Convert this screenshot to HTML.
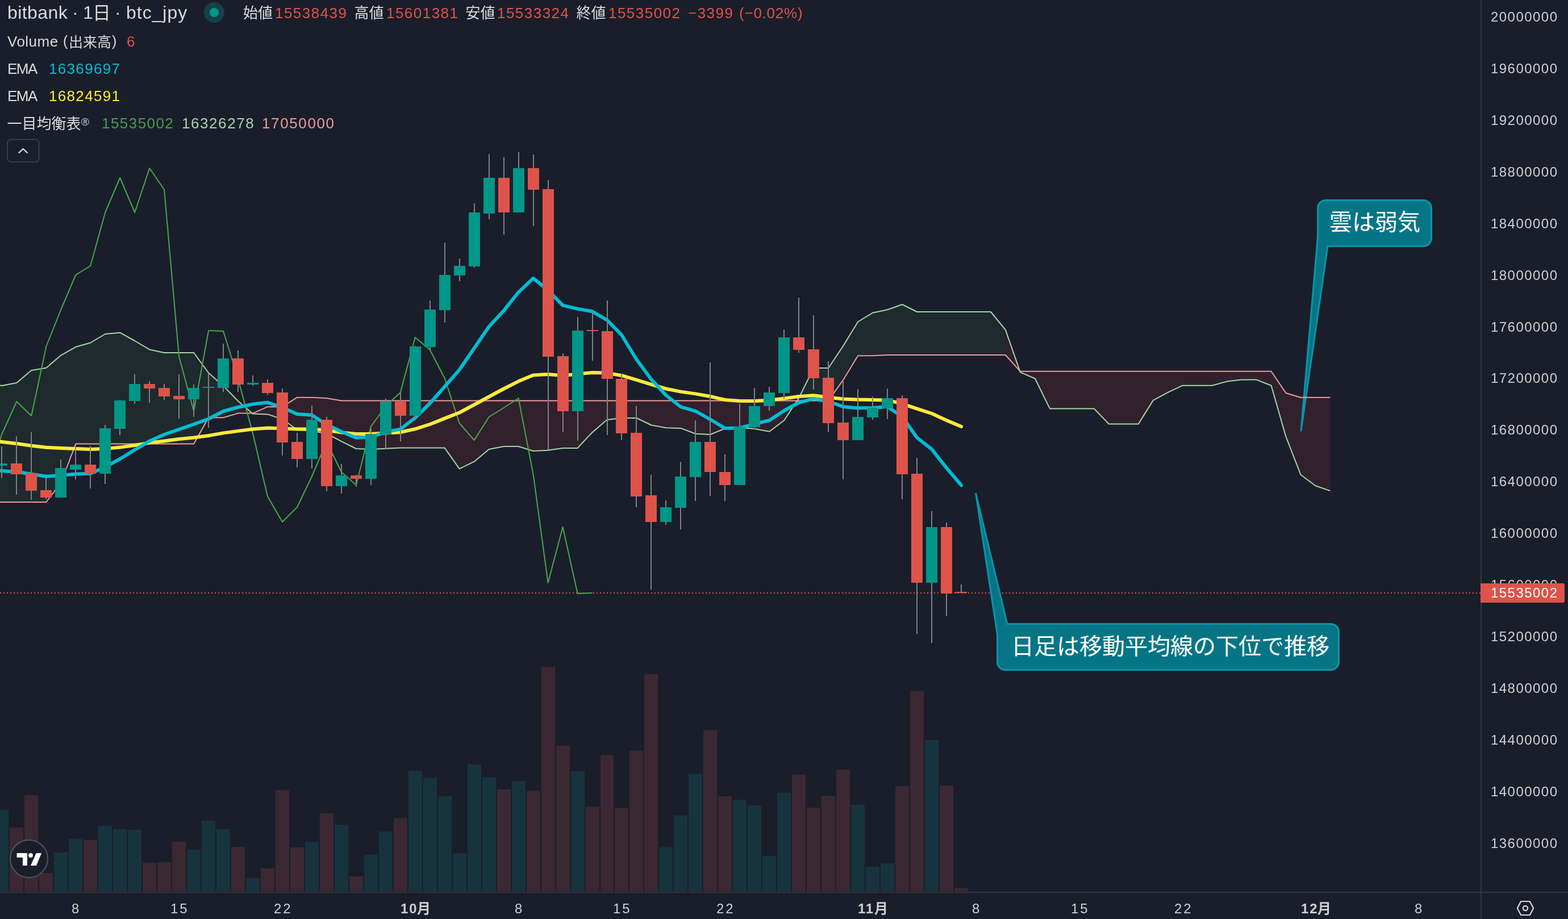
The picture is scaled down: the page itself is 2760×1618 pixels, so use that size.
<!DOCTYPE html>
<html lang="ja"><head><meta charset="utf-8"><title>bitbank 1日 btc_jpy</title>
<style>
html,body{margin:0;padding:0;background:#1a1e2b;}
body{width:2760px;height:1618px;overflow:hidden;position:relative;font-family:"Liberation Sans",sans-serif;}
#c{position:absolute;left:0;top:0;width:2760px;height:1618px;overflow:hidden;background:#1a1e2b;}
svg{position:absolute;left:0;top:0;}
svg text{font-family:"Liberation Sans","Noto Sans CJK JP",sans-serif;}
.t{position:absolute;white-space:nowrap;line-height:1;will-change:transform;}
</style></head><body><div id="c">
<svg width="2760" height="1618" viewBox="0 0 2760 1618">
<polygon fill="rgba(67,160,71,0.1)" points="-22.6,676.0 3.4,679.0 29.3,674.0 55.3,652.0 81.3,647.7 107.3,625.6 133.3,610.8 159.2,603.5 185.2,588.0 211.2,585.7 237.2,600.0 263.2,615.4 289.1,621.0 315.1,621.0 341.1,621.0 367.1,656.5 393.1,679.4 419.0,706.0 419.0,727.6 393.1,735.2 367.1,735.2 341.1,781.6 315.1,781.6 289.1,781.6 263.2,781.6 237.2,781.6 211.2,781.6 185.2,781.6 159.2,781.6 133.3,781.6 107.3,850.0 81.3,884.0 55.3,884.0 29.3,884.0 3.4,884.0 -22.6,884.0"/>
<polygon fill="rgba(244,67,54,0.1)" points="419.0,706.0 445.0,728.4 471.0,729.4 497.0,738.0 522.9,756.5 548.9,758.7 574.9,763.4 600.9,777.2 626.9,790.0 652.8,791.1 678.8,789.8 704.8,788.6 730.8,788.6 756.8,788.6 782.7,788.6 808.7,825.4 834.7,812.7 860.7,791.0 886.7,786.0 912.6,786.0 938.6,794.0 964.6,792.7 990.6,788.9 1016.6,788.9 1042.5,761.2 1068.5,739.1 1094.5,736.0 1120.5,736.0 1146.4,748.5 1172.4,753.3 1198.4,753.9 1224.4,763.8 1250.4,765.0 1276.3,754.4 1302.3,752.7 1328.3,755.0 1354.3,759.8 1380.3,740.0 1380.3,705.5 1354.3,705.5 1328.3,705.5 1302.3,705.5 1276.3,705.5 1250.4,705.5 1224.4,705.5 1198.4,705.5 1172.4,705.5 1146.4,705.5 1120.5,705.5 1094.5,705.5 1068.5,705.5 1042.5,705.5 1016.6,705.5 990.6,705.5 964.6,705.5 938.6,705.5 912.6,705.5 886.7,705.5 860.7,705.5 834.7,705.5 808.7,705.5 782.7,705.5 756.8,705.5 730.8,705.5 704.8,705.5 678.8,705.5 652.8,705.5 626.9,705.5 600.9,705.5 574.9,701.0 548.9,699.7 522.9,699.7 497.0,716.2 471.0,716.2 445.0,727.6 419.0,727.6"/>
<polygon fill="rgba(67,160,71,0.1)" points="1380.3,740.0 1406.2,700.6 1432.2,648.0 1458.2,648.0 1484.2,609.0 1510.2,566.5 1536.1,550.8 1562.1,545.2 1588.1,536.0 1614.1,549.0 1640.0,549.0 1666.0,549.0 1692.0,549.0 1718.0,549.0 1744.0,549.0 1769.9,580.8 1769.9,625.0 1744.0,625.0 1718.0,625.0 1692.0,625.0 1666.0,625.0 1640.0,625.0 1614.1,625.0 1588.1,625.0 1562.1,625.0 1536.1,626.2 1510.2,626.2 1484.2,668.9 1458.2,705.5 1432.2,705.5 1406.2,705.5 1380.3,705.5"/>
<polygon fill="rgba(244,67,54,0.1)" points="1769.9,580.8 1795.9,655.4 1821.9,666.5 1847.9,719.4 1873.9,719.4 1899.8,719.4 1925.8,719.4 1951.8,746.5 1977.8,746.5 2003.8,746.5 2029.7,704.9 2055.7,690.9 2081.7,678.7 2107.7,678.7 2133.6,678.7 2159.6,671.6 2185.6,668.6 2211.6,668.6 2237.6,678.7 2263.5,768.9 2289.5,835.7 2315.5,855.2 2341.5,864.1 2341.5,699.8 2315.5,699.8 2289.5,699.8 2263.5,692.0 2237.6,653.8 2211.6,653.8 2185.6,653.8 2159.6,653.8 2133.6,653.8 2107.7,653.8 2081.7,653.8 2055.7,653.8 2029.7,653.8 2003.8,653.8 1977.8,653.8 1951.8,653.8 1925.8,653.8 1899.8,653.8 1873.9,653.8 1847.9,653.8 1821.9,653.8 1795.9,653.8 1769.9,625.0"/>
<line x1="0" y1="1044" x2="2606" y2="1044" stroke="#de534a" stroke-width="2" stroke-dasharray="2 4"/>
<path d="M2333.5,352.5 H2505.5 A14,14 0 0 1 2519.5,366.5 V419.5 A14,14 0 0 1 2505.5,433.5 H2337 L2290,759.5 L2319.5,417 V366.5 A14,14 0 0 1 2333.5,352.5 Z" fill="#057586" stroke="#0c93a8" stroke-width="3" stroke-linejoin="miter"/>
<path d="M1773,1098.5 H2342.5 A14,14 0 0 1 2356.5,1112.5 V1165.5 A14,14 0 0 1 2342.5,1179.5 H1769.5 A14,14 0 0 1 1755.5,1165.5 V1117 L1717.5,868 Z" fill="#057586" stroke="#0c93a8" stroke-width="3" stroke-linejoin="miter"/>
<polyline fill="none" stroke="#a5d6a7" stroke-width="2" stroke-linejoin="round"  points="-22.6,676.0 3.4,679.0 29.3,674.0 55.3,652.0 81.3,647.7 107.3,625.6 133.3,610.8 159.2,603.5 185.2,588.0 211.2,585.7 237.2,600.0 263.2,615.4 289.1,621.0 315.1,621.0 341.1,621.0 367.1,656.5 393.1,679.4 419.0,706.0 445.0,728.4 471.0,729.4 497.0,738.0 522.9,756.5 548.9,758.7 574.9,763.4 600.9,777.2 626.9,790.0 652.8,791.1 678.8,789.8 704.8,788.6 730.8,788.6 756.8,788.6 782.7,788.6 808.7,825.4 834.7,812.7 860.7,791.0 886.7,786.0 912.6,786.0 938.6,794.0 964.6,792.7 990.6,788.9 1016.6,788.9 1042.5,761.2 1068.5,739.1 1094.5,736.0 1120.5,736.0 1146.4,748.5 1172.4,753.3 1198.4,753.9 1224.4,763.8 1250.4,765.0 1276.3,754.4 1302.3,752.7 1328.3,755.0 1354.3,759.8 1380.3,740.0 1406.2,700.6 1432.2,648.0 1458.2,648.0 1484.2,609.0 1510.2,566.5 1536.1,550.8 1562.1,545.2 1588.1,536.0 1614.1,549.0 1640.0,549.0 1666.0,549.0 1692.0,549.0 1718.0,549.0 1744.0,549.0 1769.9,580.8 1795.9,655.4 1821.9,666.5 1847.9,719.4 1873.9,719.4 1899.8,719.4 1925.8,719.4 1951.8,746.5 1977.8,746.5 2003.8,746.5 2029.7,704.9 2055.7,690.9 2081.7,678.7 2107.7,678.7 2133.6,678.7 2159.6,671.6 2185.6,668.6 2211.6,668.6 2237.6,678.7 2263.5,768.9 2289.5,835.7 2315.5,855.2 2341.5,864.1"/>
<polyline fill="none" stroke="#ef9a9a" stroke-width="2" stroke-linejoin="round"  points="-22.6,884.0 3.4,884.0 29.3,884.0 55.3,884.0 81.3,884.0 107.3,850.0 133.3,781.6 159.2,781.6 185.2,781.6 211.2,781.6 237.2,781.6 263.2,781.6 289.1,781.6 315.1,781.6 341.1,781.6 367.1,735.2 393.1,735.2 419.0,727.6 445.0,727.6 471.0,716.2 497.0,716.2 522.9,699.7 548.9,699.7 574.9,701.0 600.9,705.5 626.9,705.5 652.8,705.5 678.8,705.5 704.8,705.5 730.8,705.5 756.8,705.5 782.7,705.5 808.7,705.5 834.7,705.5 860.7,705.5 886.7,705.5 912.6,705.5 938.6,705.5 964.6,705.5 990.6,705.5 1016.6,705.5 1042.5,705.5 1068.5,705.5 1094.5,705.5 1120.5,705.5 1146.4,705.5 1172.4,705.5 1198.4,705.5 1224.4,705.5 1250.4,705.5 1276.3,705.5 1302.3,705.5 1328.3,705.5 1354.3,705.5 1380.3,705.5 1406.2,705.5 1432.2,705.5 1458.2,705.5 1484.2,668.9 1510.2,626.2 1536.1,626.2 1562.1,625.0 1588.1,625.0 1614.1,625.0 1640.0,625.0 1666.0,625.0 1692.0,625.0 1718.0,625.0 1744.0,625.0 1769.9,625.0 1795.9,653.8 1821.9,653.8 1847.9,653.8 1873.9,653.8 1899.8,653.8 1925.8,653.8 1951.8,653.8 1977.8,653.8 2003.8,653.8 2029.7,653.8 2055.7,653.8 2081.7,653.8 2107.7,653.8 2133.6,653.8 2159.6,653.8 2185.6,653.8 2211.6,653.8 2237.6,653.8 2263.5,692.0 2289.5,699.8 2315.5,699.8 2341.5,699.8"/>
<polyline fill="none" stroke="#46a94a" stroke-width="2" stroke-linejoin="round"  points="-48.6,883.0 -22.6,843.0 3.4,764.0 29.3,707.0 55.3,732.0 81.3,610.0 107.3,545.0 133.3,484.0 159.2,468.0 185.2,374.0 211.2,313.0 237.2,374.0 263.2,296.0 289.1,334.0 315.1,628.0 341.1,724.0 367.1,582.0 393.1,583.0 419.0,667.0 445.0,763.0 471.0,874.0 497.0,919.0 522.9,893.0 548.9,839.0 574.9,778.0 600.9,831.0 626.9,854.0 652.8,751.0 678.8,715.0 704.8,691.0 730.8,594.0 756.8,616.0 782.7,666.0 808.7,745.0 834.7,775.0 860.7,734.0 886.7,718.0 912.6,701.0 938.6,835.0 964.6,1026.0 990.6,928.0 1016.6,1045.0 1042.5,1044.0"/>
<rect x="-9" y="1426.0" width="24" height="143.0" fill="#17343e"/>
<rect x="17" y="1457.0" width="24" height="112.0" fill="#3b2832"/>
<rect x="43" y="1400.0" width="24" height="169.0" fill="#3b2832"/>
<rect x="69" y="1537.0" width="24" height="32.0" fill="#3b2832"/>
<rect x="95" y="1501.0" width="24" height="68.0" fill="#17343e"/>
<rect x="121" y="1477.0" width="24" height="92.0" fill="#17343e"/>
<rect x="147" y="1479.0" width="24" height="90.0" fill="#3b2832"/>
<rect x="173" y="1454.0" width="24" height="115.0" fill="#17343e"/>
<rect x="199" y="1460.0" width="24" height="109.0" fill="#17343e"/>
<rect x="225" y="1461.0" width="24" height="108.0" fill="#17343e"/>
<rect x="251" y="1519.0" width="24" height="50.0" fill="#3b2832"/>
<rect x="277" y="1518.0" width="24" height="51.0" fill="#3b2832"/>
<rect x="303" y="1482.0" width="24" height="87.0" fill="#3b2832"/>
<rect x="329" y="1496.0" width="24" height="73.0" fill="#17343e"/>
<rect x="355" y="1445.0" width="24" height="124.0" fill="#17343e"/>
<rect x="381" y="1460.0" width="24" height="109.0" fill="#17343e"/>
<rect x="407" y="1491.0" width="24" height="78.0" fill="#3b2832"/>
<rect x="433" y="1546.0" width="24" height="23.0" fill="#17343e"/>
<rect x="459" y="1529.0" width="24" height="40.0" fill="#3b2832"/>
<rect x="485" y="1391.0" width="24" height="178.0" fill="#3b2832"/>
<rect x="511" y="1492.0" width="24" height="77.0" fill="#3b2832"/>
<rect x="537" y="1482.0" width="24" height="87.0" fill="#17343e"/>
<rect x="563" y="1432.0" width="24" height="137.0" fill="#3b2832"/>
<rect x="589" y="1452.0" width="24" height="117.0" fill="#17343e"/>
<rect x="615" y="1543.0" width="24" height="26.0" fill="#3b2832"/>
<rect x="641" y="1505.0" width="24" height="64.0" fill="#17343e"/>
<rect x="667" y="1464.0" width="24" height="105.0" fill="#17343e"/>
<rect x="693" y="1440.5" width="24" height="128.5" fill="#3b2832"/>
<rect x="719" y="1357.0" width="24" height="212.0" fill="#17343e"/>
<rect x="745" y="1369.5" width="24" height="199.5" fill="#17343e"/>
<rect x="771" y="1402.0" width="24" height="167.0" fill="#17343e"/>
<rect x="797" y="1502.0" width="24" height="67.0" fill="#17343e"/>
<rect x="823" y="1346.0" width="24" height="223.0" fill="#17343e"/>
<rect x="849" y="1368.5" width="24" height="200.5" fill="#17343e"/>
<rect x="875" y="1390.0" width="24" height="179.0" fill="#3b2832"/>
<rect x="901" y="1375.5" width="24" height="193.5" fill="#17343e"/>
<rect x="927" y="1392.5" width="24" height="176.5" fill="#3b2832"/>
<rect x="953" y="1174.5" width="24" height="394.5" fill="#3b2832"/>
<rect x="979" y="1313.0" width="24" height="256.0" fill="#3b2832"/>
<rect x="1005" y="1358.0" width="24" height="211.0" fill="#17343e"/>
<rect x="1031" y="1420.5" width="24" height="148.5" fill="#3b2832"/>
<rect x="1057" y="1329.5" width="23" height="239.5" fill="#3b2832"/>
<rect x="1082" y="1422.5" width="24" height="146.5" fill="#3b2832"/>
<rect x="1108" y="1321.5" width="24" height="247.5" fill="#3b2832"/>
<rect x="1134" y="1187.0" width="24" height="382.0" fill="#3b2832"/>
<rect x="1160" y="1491.5" width="24" height="77.5" fill="#17343e"/>
<rect x="1186" y="1435.5" width="24" height="133.5" fill="#17343e"/>
<rect x="1212" y="1362.5" width="24" height="206.5" fill="#17343e"/>
<rect x="1238" y="1285.5" width="24" height="283.5" fill="#3b2832"/>
<rect x="1264" y="1402.0" width="24" height="167.0" fill="#3b2832"/>
<rect x="1290" y="1408.0" width="24" height="161.0" fill="#17343e"/>
<rect x="1316" y="1418.0" width="24" height="151.0" fill="#17343e"/>
<rect x="1342" y="1507.0" width="24" height="62.0" fill="#17343e"/>
<rect x="1368" y="1395.5" width="24" height="173.5" fill="#17343e"/>
<rect x="1394" y="1364.0" width="24" height="205.0" fill="#3b2832"/>
<rect x="1420" y="1422.0" width="24" height="147.0" fill="#3b2832"/>
<rect x="1446" y="1401.0" width="24" height="168.0" fill="#3b2832"/>
<rect x="1472" y="1355.0" width="24" height="214.0" fill="#3b2832"/>
<rect x="1498" y="1417.0" width="24" height="152.0" fill="#17343e"/>
<rect x="1524" y="1526.0" width="24" height="43.0" fill="#17343e"/>
<rect x="1550" y="1520.0" width="24" height="49.0" fill="#17343e"/>
<rect x="1576" y="1384.0" width="24" height="185.0" fill="#3b2832"/>
<rect x="1602" y="1216.5" width="24" height="352.5" fill="#3b2832"/>
<rect x="1628" y="1303.0" width="24" height="266.0" fill="#17343e"/>
<rect x="1654" y="1383.0" width="24" height="186.0" fill="#3b2832"/>
<rect x="1680" y="1563.0" width="24" height="6.0" fill="#3b2832"/>
<polyline fill="none" stroke="#ffeb3b" stroke-width="6" stroke-linejoin="round" stroke-linecap="round" points="-22.6,775.0 3.4,778.0 29.3,781.0 55.3,784.7 81.3,787.8 107.3,789.0 133.3,790.0 159.2,791.0 185.2,790.0 211.2,787.6 237.2,784.0 263.2,779.5 289.1,776.5 315.1,773.0 341.1,770.5 367.1,767.0 393.1,762.4 419.0,758.9 445.0,755.6 471.0,753.5 497.0,754.3 522.9,755.6 548.9,755.6 574.9,757.6 600.9,761.4 626.9,763.9 652.8,763.9 678.8,762.5 704.8,761.0 730.8,755.3 756.8,747.0 782.7,736.6 808.7,726.5 834.7,712.5 860.7,698.5 886.7,684.5 912.6,671.3 938.6,660.5 964.6,659.1 990.6,661.2 1016.6,658.6 1042.5,656.0 1068.5,656.6 1094.5,661.2 1120.5,668.8 1146.4,676.9 1172.4,684.5 1198.4,689.6 1224.4,693.4 1250.4,698.0 1276.3,704.0 1302.3,706.0 1328.3,706.0 1354.3,704.7 1380.3,701.4 1406.2,698.0 1432.2,696.3 1458.2,699.4 1484.2,702.4 1510.2,703.4 1536.1,704.0 1562.1,704.4 1588.1,710.8 1614.1,719.7 1640.0,728.0 1666.0,740.0 1692.0,751.0"/>
<polyline fill="none" stroke="#00bcd4" stroke-width="6" stroke-linejoin="round" stroke-linecap="round" points="-22.6,828.0 3.4,829.0 29.3,830.7 55.3,834.8 81.3,838.8 107.3,837.0 133.3,834.5 159.2,833.7 185.2,822.0 211.2,808.0 237.2,792.0 263.2,776.5 289.1,765.0 315.1,756.0 341.1,747.0 367.1,737.5 393.1,724.0 419.0,717.0 445.0,711.6 471.0,708.6 497.0,717.5 522.9,728.9 548.9,730.7 574.9,747.4 600.9,760.0 626.9,770.8 652.8,769.5 678.8,760.6 704.8,755.6 730.8,735.5 756.8,710.0 782.7,680.7 808.7,651.0 834.7,613.0 860.7,575.0 886.7,547.0 912.6,514.7 938.6,489.8 964.6,511.0 990.6,537.6 1016.6,543.7 1042.5,548.3 1068.5,563.5 1094.5,590.2 1120.5,633.0 1146.4,668.0 1172.4,696.0 1198.4,716.3 1224.4,723.9 1250.4,738.5 1276.3,754.0 1302.3,753.5 1328.3,746.3 1354.3,740.0 1380.3,723.0 1406.2,708.8 1432.2,701.9 1458.2,707.0 1484.2,715.9 1510.2,718.4 1536.1,717.9 1562.1,715.9 1588.1,733.7 1614.1,770.5 1640.0,790.8 1666.0,823.8 1692.0,854.3"/>
<rect x="2" y="786" width="2" height="56" fill="#7e8184"/>
<rect x="-7" y="816" width="20" height="4" fill="#009688"/>
<rect x="28" y="768" width="2" height="103" fill="#7e8184"/>
<rect x="19" y="816" width="20" height="19" fill="#de534a"/>
<rect x="54" y="761" width="2" height="119" fill="#7e8184"/>
<rect x="45" y="833" width="20" height="31" fill="#de534a"/>
<rect x="80" y="841" width="2" height="38" fill="#7e8184"/>
<rect x="71" y="863" width="20" height="13" fill="#de534a"/>
<rect x="106" y="809" width="2" height="67" fill="#7e8184"/>
<rect x="97" y="824" width="20" height="52" fill="#009688"/>
<rect x="132" y="786" width="2" height="58" fill="#7e8184"/>
<rect x="123" y="818" width="20" height="9" fill="#009688"/>
<rect x="158" y="785" width="2" height="75" fill="#7e8184"/>
<rect x="149" y="818" width="20" height="16" fill="#de534a"/>
<rect x="184" y="748" width="2" height="104" fill="#7e8184"/>
<rect x="175" y="754" width="20" height="80" fill="#009688"/>
<rect x="210" y="704" width="2" height="62" fill="#7e8184"/>
<rect x="201" y="705" width="20" height="50" fill="#009688"/>
<rect x="236" y="659" width="2" height="52" fill="#7e8184"/>
<rect x="227" y="676" width="20" height="30" fill="#009688"/>
<rect x="262" y="671" width="2" height="38" fill="#7e8184"/>
<rect x="253" y="676" width="20" height="8" fill="#de534a"/>
<rect x="288" y="676" width="2" height="28" fill="#7e8184"/>
<rect x="279" y="683" width="20" height="15" fill="#de534a"/>
<rect x="314" y="659" width="2" height="78" fill="#7e8184"/>
<rect x="305" y="697" width="20" height="6" fill="#de534a"/>
<rect x="340" y="677" width="2" height="57" fill="#7e8184"/>
<rect x="331" y="683" width="20" height="20" fill="#009688"/>
<rect x="366" y="658" width="2" height="95" fill="#7e8184"/>
<rect x="357" y="681" width="20" height="2" fill="#009688"/>
<rect x="392" y="605" width="2" height="85" fill="#7e8184"/>
<rect x="383" y="631" width="20" height="52" fill="#009688"/>
<rect x="418" y="617" width="2" height="73" fill="#7e8184"/>
<rect x="409" y="631" width="20" height="46" fill="#de534a"/>
<rect x="444" y="661" width="2" height="18" fill="#7e8184"/>
<rect x="435" y="674" width="20" height="3" fill="#009688"/>
<rect x="470" y="668" width="2" height="27" fill="#7e8184"/>
<rect x="461" y="674" width="20" height="18" fill="#de534a"/>
<rect x="496" y="684" width="2" height="118" fill="#7e8184"/>
<rect x="487" y="691" width="20" height="88" fill="#de534a"/>
<rect x="522" y="762" width="2" height="61" fill="#7e8184"/>
<rect x="513" y="778" width="20" height="30" fill="#de534a"/>
<rect x="548" y="714" width="2" height="111" fill="#7e8184"/>
<rect x="539" y="739" width="20" height="69" fill="#009688"/>
<rect x="574" y="734" width="2" height="131" fill="#7e8184"/>
<rect x="565" y="739" width="20" height="117" fill="#de534a"/>
<rect x="600" y="817" width="2" height="52" fill="#7e8184"/>
<rect x="591" y="837" width="20" height="19" fill="#009688"/>
<rect x="626" y="836" width="2" height="21" fill="#7e8184"/>
<rect x="617" y="837" width="20" height="6" fill="#de534a"/>
<rect x="652" y="755" width="2" height="99" fill="#7e8184"/>
<rect x="643" y="764" width="20" height="79" fill="#009688"/>
<rect x="678" y="702" width="2" height="89" fill="#7e8184"/>
<rect x="669" y="707" width="20" height="58" fill="#009688"/>
<rect x="704" y="690" width="2" height="87" fill="#7e8184"/>
<rect x="695" y="707" width="20" height="25" fill="#de534a"/>
<rect x="730" y="609" width="2" height="131" fill="#7e8184"/>
<rect x="721" y="610" width="20" height="122" fill="#009688"/>
<rect x="756" y="529" width="2" height="87" fill="#7e8184"/>
<rect x="747" y="545" width="20" height="66" fill="#009688"/>
<rect x="782" y="427" width="2" height="141" fill="#7e8184"/>
<rect x="773" y="484" width="20" height="62" fill="#009688"/>
<rect x="808" y="455" width="2" height="40" fill="#7e8184"/>
<rect x="799" y="468" width="20" height="17" fill="#009688"/>
<rect x="834" y="358" width="2" height="113" fill="#7e8184"/>
<rect x="825" y="374" width="20" height="95" fill="#009688"/>
<rect x="860" y="271" width="2" height="115" fill="#7e8184"/>
<rect x="851" y="313" width="20" height="63" fill="#009688"/>
<rect x="886" y="277" width="2" height="136" fill="#7e8184"/>
<rect x="877" y="313" width="20" height="61" fill="#de534a"/>
<rect x="912" y="268" width="2" height="106" fill="#7e8184"/>
<rect x="903" y="296" width="20" height="78" fill="#009688"/>
<rect x="938" y="272" width="2" height="126" fill="#7e8184"/>
<rect x="929" y="296" width="20" height="38" fill="#de534a"/>
<rect x="964" y="317" width="2" height="475" fill="#7e8184"/>
<rect x="955" y="333" width="20" height="295" fill="#de534a"/>
<rect x="990" y="622" width="2" height="139" fill="#7e8184"/>
<rect x="981" y="627" width="20" height="97" fill="#de534a"/>
<rect x="1016" y="558" width="2" height="218" fill="#7e8184"/>
<rect x="1007" y="582" width="20" height="142" fill="#009688"/>
<rect x="1042" y="547" width="2" height="88" fill="#7e8184"/>
<rect x="1033" y="581" width="20" height="2" fill="#de534a"/>
<rect x="1068" y="529" width="2" height="237" fill="#7e8184"/>
<rect x="1059" y="583" width="20" height="84" fill="#de534a"/>
<rect x="1093" y="659" width="2" height="116" fill="#7e8184"/>
<rect x="1084" y="667" width="20" height="96" fill="#de534a"/>
<rect x="1119" y="715" width="2" height="178" fill="#7e8184"/>
<rect x="1110" y="762" width="20" height="112" fill="#de534a"/>
<rect x="1145" y="836" width="2" height="202" fill="#7e8184"/>
<rect x="1136" y="872" width="20" height="47" fill="#de534a"/>
<rect x="1171" y="881" width="2" height="43" fill="#7e8184"/>
<rect x="1162" y="893" width="20" height="26" fill="#009688"/>
<rect x="1197" y="813" width="2" height="119" fill="#7e8184"/>
<rect x="1188" y="839" width="20" height="55" fill="#009688"/>
<rect x="1223" y="740" width="2" height="142" fill="#7e8184"/>
<rect x="1214" y="778" width="20" height="62" fill="#009688"/>
<rect x="1249" y="638" width="2" height="235" fill="#7e8184"/>
<rect x="1240" y="778" width="20" height="53" fill="#de534a"/>
<rect x="1275" y="800" width="2" height="82" fill="#7e8184"/>
<rect x="1266" y="831" width="20" height="23" fill="#de534a"/>
<rect x="1301" y="711" width="2" height="143" fill="#7e8184"/>
<rect x="1292" y="751" width="20" height="103" fill="#009688"/>
<rect x="1327" y="683" width="2" height="73" fill="#7e8184"/>
<rect x="1318" y="715" width="20" height="37" fill="#009688"/>
<rect x="1353" y="681" width="2" height="42" fill="#7e8184"/>
<rect x="1344" y="691" width="20" height="24" fill="#009688"/>
<rect x="1379" y="580" width="2" height="122" fill="#7e8184"/>
<rect x="1370" y="594" width="20" height="98" fill="#009688"/>
<rect x="1405" y="524" width="2" height="97" fill="#7e8184"/>
<rect x="1396" y="594" width="20" height="22" fill="#de534a"/>
<rect x="1431" y="555" width="2" height="131" fill="#7e8184"/>
<rect x="1422" y="615" width="20" height="51" fill="#de534a"/>
<rect x="1457" y="636" width="2" height="125" fill="#7e8184"/>
<rect x="1448" y="665" width="20" height="80" fill="#de534a"/>
<rect x="1483" y="671" width="2" height="173" fill="#7e8184"/>
<rect x="1474" y="744" width="20" height="31" fill="#de534a"/>
<rect x="1509" y="685" width="2" height="90" fill="#7e8184"/>
<rect x="1500" y="734" width="20" height="41" fill="#009688"/>
<rect x="1535" y="698" width="2" height="41" fill="#7e8184"/>
<rect x="1526" y="718" width="20" height="17" fill="#009688"/>
<rect x="1561" y="684" width="2" height="54" fill="#7e8184"/>
<rect x="1552" y="701" width="20" height="18" fill="#009688"/>
<rect x="1587" y="696" width="2" height="183" fill="#7e8184"/>
<rect x="1578" y="701" width="20" height="134" fill="#de534a"/>
<rect x="1613" y="806" width="2" height="310" fill="#7e8184"/>
<rect x="1604" y="834" width="20" height="192" fill="#de534a"/>
<rect x="1639" y="900" width="2" height="232" fill="#7e8184"/>
<rect x="1630" y="928" width="20" height="98" fill="#009688"/>
<rect x="1665" y="920" width="2" height="164" fill="#7e8184"/>
<rect x="1656" y="928" width="20" height="117" fill="#de534a"/>
<rect x="1691" y="1029" width="2" height="15" fill="#7e8184"/>
<rect x="1682" y="1042" width="20" height="2" fill="#de534a"/>
<text x="2340" y="405" font-size="40" fill="#ffffff">雲は弱気</text>
<text x="1780" y="1152" font-size="40" fill="#ffffff">日足は移動平均線の下位で推移</text>
<rect x="2608" y="0" width="152" height="1618" fill="#1a1e2b"/>
<rect x="2606" y="0" width="2" height="1618" fill="#323641"/>
<rect x="0" y="1570" width="2760" height="2" fill="#323641"/>
<path d="M2606,1027 H2750 a4,4 0 0 1 4,4 V1057 a4,4 0 0 1 -4,4 H2606 Z" fill="#de534a"/>
</svg>
<div class="t" style="left:2624.3px;top:18.1px;font-size:24px;color:#d0d0d0;letter-spacing:1.46px;">20000000</div>
<div class="t" style="left:2624.3px;top:109.0px;font-size:24px;color:#d0d0d0;letter-spacing:1.46px;">19600000</div>
<div class="t" style="left:2624.3px;top:199.9px;font-size:24px;color:#d0d0d0;letter-spacing:1.46px;">19200000</div>
<div class="t" style="left:2624.3px;top:290.8px;font-size:24px;color:#d0d0d0;letter-spacing:1.46px;">18800000</div>
<div class="t" style="left:2624.3px;top:381.7px;font-size:24px;color:#d0d0d0;letter-spacing:1.46px;">18400000</div>
<div class="t" style="left:2624.3px;top:472.6px;font-size:24px;color:#d0d0d0;letter-spacing:1.46px;">18000000</div>
<div class="t" style="left:2624.3px;top:563.5px;font-size:24px;color:#d0d0d0;letter-spacing:1.46px;">17600000</div>
<div class="t" style="left:2624.3px;top:654.4px;font-size:24px;color:#d0d0d0;letter-spacing:1.46px;">17200000</div>
<div class="t" style="left:2624.3px;top:745.3px;font-size:24px;color:#d0d0d0;letter-spacing:1.46px;">16800000</div>
<div class="t" style="left:2624.3px;top:836.2px;font-size:24px;color:#d0d0d0;letter-spacing:1.46px;">16400000</div>
<div class="t" style="left:2624.3px;top:927.1px;font-size:24px;color:#d0d0d0;letter-spacing:1.46px;">16000000</div>
<div class="t" style="left:2624.3px;top:1018.0px;font-size:24px;color:#d0d0d0;letter-spacing:1.46px;">15600000</div>
<div class="t" style="left:2624.3px;top:1108.9px;font-size:24px;color:#d0d0d0;letter-spacing:1.46px;">15200000</div>
<div class="t" style="left:2624.3px;top:1199.8px;font-size:24px;color:#d0d0d0;letter-spacing:1.46px;">14800000</div>
<div class="t" style="left:2624.3px;top:1290.7px;font-size:24px;color:#d0d0d0;letter-spacing:1.46px;">14400000</div>
<div class="t" style="left:2624.3px;top:1381.6px;font-size:24px;color:#d0d0d0;letter-spacing:1.46px;">14000000</div>
<div class="t" style="left:2624.3px;top:1472.5px;font-size:24px;color:#d0d0d0;letter-spacing:1.46px;">13600000</div>
<div class="t" style="left:126.3px;top:1587.7px;font-size:24px;color:#d0d0d0;">8</div>
<div class="t" style="left:300.2px;top:1587.7px;font-size:24px;color:#d0d0d0;letter-spacing:2.80px;">15</div>
<div class="t" style="left:482.2px;top:1587.7px;font-size:24px;color:#d0d0d0;letter-spacing:2.80px;">22</div>
<div class="t" style="left:906.3px;top:1587.7px;font-size:24px;color:#d0d0d0;">8</div>
<div class="t" style="left:1079.2px;top:1587.7px;font-size:24px;color:#d0d0d0;letter-spacing:2.80px;">15</div>
<div class="t" style="left:1261.2px;top:1587.7px;font-size:24px;color:#d0d0d0;letter-spacing:2.80px;">22</div>
<div class="t" style="left:1711.3px;top:1587.7px;font-size:24px;color:#d0d0d0;">8</div>
<div class="t" style="left:1885.2px;top:1587.7px;font-size:24px;color:#d0d0d0;letter-spacing:2.80px;">15</div>
<div class="t" style="left:2067.2px;top:1587.7px;font-size:24px;color:#d0d0d0;letter-spacing:2.80px;">22</div>
<div class="t" style="left:2490.3px;top:1587.7px;font-size:24px;color:#d0d0d0;">8</div>
<div class="t" style="left:704.5px;top:1587.7px;font-size:24px;color:#d0d0d0;letter-spacing:1.80px;font-weight:bold;">10</div>
<div class="t" style="left:1509.5px;top:1587.7px;font-size:24px;color:#d0d0d0;letter-spacing:1.80px;font-weight:bold;">11</div>
<div class="t" style="left:2289.5px;top:1587.7px;font-size:24px;color:#d0d0d0;letter-spacing:1.80px;font-weight:bold;">12</div>
<div class="t" style="left:13.0px;top:6.3px;font-size:32px;color:#dadada;letter-spacing:0.44px;">bitbank</div>
<div class="t" style="left:127.1px;top:6.3px;font-size:32px;color:#dadada;">·</div>
<div class="t" style="left:145.5px;top:6.3px;font-size:32px;color:#dadada;">1</div>
<div class="t" style="left:202.4px;top:6.3px;font-size:32px;color:#dadada;">·</div>
<div class="t" style="left:221.6px;top:6.3px;font-size:32px;color:#dadada;letter-spacing:0.97px;">btc_jpy</div>
<div class="t" style="left:483.8px;top:9.5px;font-size:26px;color:#de534a;letter-spacing:1.47px;">15538439</div>
<div class="t" style="left:679.5px;top:9.5px;font-size:26px;color:#de534a;letter-spacing:1.47px;">15601381</div>
<div class="t" style="left:875.1px;top:9.5px;font-size:26px;color:#de534a;letter-spacing:1.47px;">15533324</div>
<div class="t" style="left:1070.8px;top:9.5px;font-size:26px;color:#de534a;letter-spacing:1.47px;">15535002</div>
<div class="t" style="left:1211.3px;top:9.5px;font-size:26px;color:#de534a;letter-spacing:1.49px;">−3399</div>
<div class="t" style="left:1301.0px;top:9.5px;font-size:26px;color:#de534a;letter-spacing:0.77px;">(−0.02%)</div>
<div class="t" style="left:13.0px;top:59.6px;font-size:26px;color:#dadada;letter-spacing:0.49px;">Volume</div>
<div class="t" style="left:111.3px;top:60.4px;font-size:25px;color:#dadada;">(</div>
<div class="t" style="left:197.2px;top:60.4px;font-size:25px;color:#dadada;">)</div>
<div class="t" style="left:223.2px;top:59.6px;font-size:26px;color:#de534a;">6</div>
<div class="t" style="left:13.2px;top:108.0px;font-size:26px;color:#dadada;letter-spacing:-1.52px;">EMA</div>
<div class="t" style="left:86.3px;top:108.0px;font-size:26px;color:#00bcd4;letter-spacing:1.33px;">16369697</div>
<div class="t" style="left:13.2px;top:156.0px;font-size:26px;color:#dadada;letter-spacing:-1.52px;">EMA</div>
<div class="t" style="left:86.3px;top:156.0px;font-size:26px;color:#ffeb3b;letter-spacing:1.33px;">16824591</div>
<div class="t" style="left:143.0px;top:204.9px;font-size:19px;color:#dadada;">®</div>
<div class="t" style="left:178.5px;top:204.0px;font-size:26px;color:#43a047;letter-spacing:1.45px;">15535002</div>
<div class="t" style="left:319.5px;top:204.0px;font-size:26px;color:#a5d6a7;letter-spacing:1.57px;">16326278</div>
<div class="t" style="left:461.0px;top:204.0px;font-size:26px;color:#ef9a9a;letter-spacing:1.62px;">17050000</div>
<svg width="2760" height="1618" viewBox="0 0 2760 1618">
<path d="M2606,1027 H2750 a4,4 0 0 1 4,4 V1057 a4,4 0 0 1 -4,4 H2606 Z" fill="#de534a"/>
<polygon points="2670.8,1599 2677.1,1587 2692.7,1587 2699.2,1599 2692.7,1611 2677.1,1611" fill="none" stroke="#d9d9d9" stroke-width="2.2" stroke-linejoin="round"/>
<circle cx="2685" cy="1599" r="4.1" fill="none" stroke="#d9d9d9" stroke-width="2.2"/>
<text x="734" y="1608" font-size="24" font-weight="bold" fill="#d0d0d0">月</text>
<text x="1539" y="1608" font-size="24" font-weight="bold" fill="#d0d0d0">月</text>
<text x="2319" y="1608" font-size="24" font-weight="bold" fill="#d0d0d0">月</text>
<circle cx="51" cy="1512" r="33" fill="#1a1e2b" stroke="#54565f" stroke-width="2"/>
<polygon fill="#fff" points="29.6,1502 48,1502 48,1524 39.9,1524 39.9,1509.8 29.6,1509.8"/>
<circle cx="54" cy="1506" r="3.9" fill="#fff"/>
<polygon fill="#fff" points="63.7,1502 73,1502 64,1524 54,1524"/>
<rect x="13" y="245.5" width="55.5" height="39.5" rx="6" fill="#1a1e2b" stroke="#3f434e" stroke-width="1.7"/>
<polyline points="33.6,268.8 40.7,262 47.9,268.8" fill="none" stroke="#d6d6d6" stroke-width="2.4" stroke-linecap="round" stroke-linejoin="round"/>
<circle cx="377" cy="21.9" r="18" fill="#1a4047"/>
<circle cx="377" cy="21.9" r="8.1" fill="#009688"/>
<text x="163" y="34" font-size="32" fill="#dadada">日</text>
<text x="428" y="32" font-size="26" fill="#dadada">始値</text>
<text x="623.5" y="32" font-size="26" fill="#dadada">高値</text>
<text x="819.5" y="32" font-size="26" fill="#dadada">安値</text>
<text x="1014.5" y="32" font-size="26" fill="#dadada">終値</text>
<text x="121" y="83" font-size="25" fill="#dadada">出来高</text>
<text x="12.5" y="227" font-size="26" fill="#dadada">一目均衡表</text>
</svg>
<div class="t" style="left:2624.3px;top:1032.2px;font-size:24px;color:#ffffff;letter-spacing:1.46px;">15535002</div>
</div></body></html>
